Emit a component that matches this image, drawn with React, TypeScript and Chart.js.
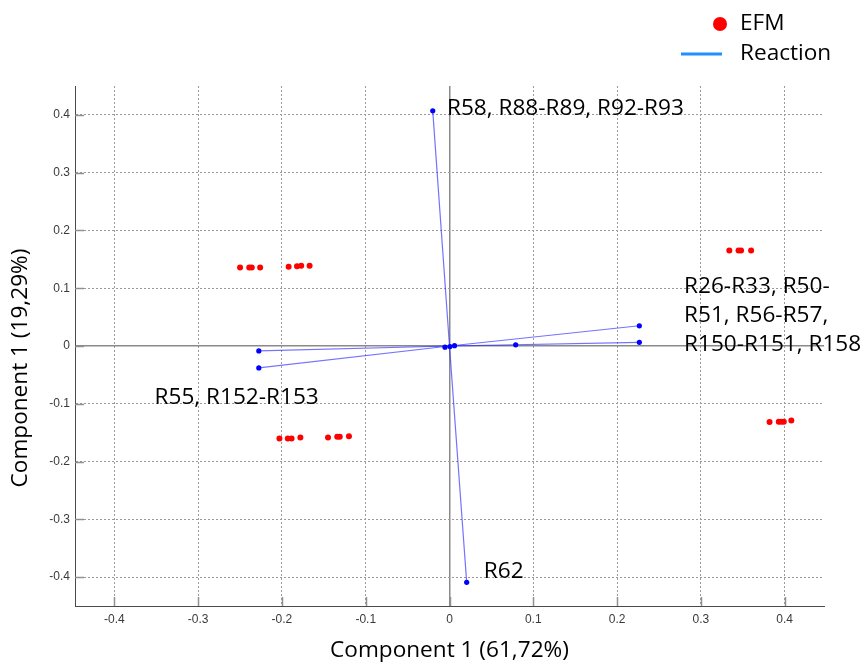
import React, { useEffect, useRef } from "react";
import { Chart, registerables } from "chart.js";
Chart.register(...registerables);

// EFM scores (component 1, component 2)
const efmX = [
  -0.250, -0.239, -0.236, -0.226, -0.192, -0.182, -0.177, -0.167,
  -0.203, -0.193, -0.1885, -0.178, -0.145, -0.134, -0.131, -0.120,
  0.334, 0.345, 0.348, 0.360,
  0.382, 0.393, 0.396, 0.399, 0.408,
];
const efmY = [
  0.136, 0.136, 0.136, 0.136, 0.137, 0.138, 0.139, 0.139,
  -0.160, -0.160, -0.160, -0.1585, -0.1585, -0.157, -0.157, -0.156,
  0.1655, 0.1655, 0.1655, 0.1655,
  -0.1315, -0.131, -0.131, -0.131, -0.129,
];

// Reaction loading vectors (end points, drawn from the origin)
const reactX = [-0.020, 0.0205, -0.2276, -0.2276, 0.2266, 0.2266, 0.079, -0.0054, 0.0006, 0.006];
const reactY = [0.407, -0.409, -0.0086, -0.038, 0.035, 0.0064, 0.002, -0.002, -0.001, 0.0005];

// Annotation labels (text lines anchored at data coordinates)
const labelTexts = [
  ["R58, R88-R89, R92-R93"],
  ["R26-R33, R50-", "R51, R56-R57,", "R150-R151, R158"],
  ["R55, R152-R153"],
  ["R62"],
];
const labelX = [-0.003, 0.280, -0.352, 0.041];
const labelY = [0.411, 0.1034, -0.0897, -0.3897];

const xTicks = [-0.4, -0.3, -0.2, -0.1, 0, 0.1, 0.2, 0.3, 0.4];
const yTicks = [-0.4, -0.3, -0.2, -0.1, 0, 0.1, 0.2, 0.3, 0.4];

const xTitle = "Component 1 (61,72%)";
const yTitle = "Component 1 (19,29%)";
const legendNames = ["EFM", "Reaction"];

const TEXT_FONT = "'Open Sans', 'Noto Sans', sans-serif";
const TEXT_SIZE = 22.6;
const TICK_FONT = "'Liberation Sans', Arial, sans-serif";

export default function App() {
  const ref = useRef<HTMLCanvasElement>(null);

  useEffect(() => {
    const canvas = ref.current!;
    const efmData = efmX.map((x, i) => ({ x, y: efmY[i] }));
    const reactionData: any[] = [];
    reactX.forEach((x, i) => {
      reactionData.push({ x: 0, y: 0 }, { x, y: reactY[i] }, { x: NaN, y: NaN });
    });

    const extras = {
      id: "extras",
      beforeDatasetsDraw(chart: any) {
        const { ctx, chartArea, scales } = chart;
        ctx.save();
        ctx.strokeStyle = "#909090";
        ctx.lineWidth = 1.5;
        ctx.setLineDash([]);
        for (const v of xTicks) {
          const px = Math.round(scales.x.getPixelForValue(v)) + 0.5;
          ctx.beginPath();
          ctx.moveTo(px, chartArea.bottom);
          ctx.lineTo(px, chartArea.bottom - 9);
          ctx.stroke();
        }
        for (const v of yTicks) {
          const py = Math.round(scales.y.getPixelForValue(v)) + 0.5;
          ctx.beginPath();
          ctx.moveTo(chartArea.left, py);
          ctx.lineTo(chartArea.left + 9, py);
          ctx.stroke();
        }
        ctx.restore();
      },
      afterDraw(chart: any) {
        const { ctx, scales } = chart;
        ctx.save();
        ctx.fillStyle = "#000";
        ctx.font = `${TEXT_SIZE}px ${TEXT_FONT}`;
        ctx.textAlign = "left";
        ctx.textBaseline = "middle";
        labelTexts.forEach((lines, i) => {
          const px = scales.x.getPixelForValue(labelX[i]);
          const py = scales.y.getPixelForValue(labelY[i]);
          lines.forEach((t, j) => ctx.fillText(t, px, py + j * 29));
        });

        // y-axis title
        ctx.save();
        ctx.translate(21, 368);
        ctx.rotate(-Math.PI / 2);
        ctx.textAlign = "center";
        ctx.fillStyle = "#000";
        ctx.fillText(yTitle, 0, 0);
        ctx.restore();

        // legend
        ctx.fillStyle = "#ff0000";
        ctx.beginPath();
        ctx.arc(720, 24, 7, 0, Math.PI * 2);
        ctx.fill();
        ctx.strokeStyle = "#1e90ff";
        ctx.lineWidth = 3;
        ctx.beginPath();
        ctx.moveTo(681, 54);
        ctx.lineTo(722, 54);
        ctx.stroke();
        ctx.fillStyle = "#000";
        ctx.textAlign = "left";
        ctx.fillText(legendNames[0], 740, 24);
        ctx.fillText(legendNames[1], 740, 54);
        ctx.restore();
      },
    };

    const isZero = (c: any) => c.tick && c.tick.value === 0;

    const chart = new Chart(canvas, {
      type: "scatter",
      data: {
        datasets: [
          {
            label: legendNames[1],
            data: reactionData,
            showLine: true,
            spanGaps: false,
            borderColor: "rgba(40,40,255,0.65)",
            borderWidth: 1.2,
            pointRadius: (c: any) => (c.dataIndex % 3 === 1 ? 2.6 : 0),
            pointBackgroundColor: "#0000ff",
            pointBorderWidth: 0,
          },
          {
            label: legendNames[0],
            data: efmData,
            pointRadius: 3,
            pointBackgroundColor: "#ff0000",
            pointBorderWidth: 0,
          },
        ],
      },
      options: {
        animation: false,
        responsive: false,
        layout: { padding: { left: 0, top: 86, right: 39, bottom: 0 } },
        plugins: { legend: { display: false }, tooltip: { enabled: false } },
        scales: {
          x: {
            type: "linear",
            min: -0.447,
            max: 0.447,
            afterBuildTicks: (s: any) => {
              s.ticks = xTicks.map((v) => ({ value: v }));
            },
            afterFit: (s: any) => {
              s.height = 58;
            },
            grid: {
              drawTicks: false,
              color: (c: any) => (isZero(c) ? "#8a8a8a" : "#9a9a9a"),
              lineWidth: (c: any) => (isZero(c) ? 1.5 : 1),
            },
            border: {
              display: true,
              color: "#4a4a4a",
              width: 1,
              dash: (c: any) => (isZero(c) ? [] : [2, 2]),
            },
            ticks: {
              padding: 6,
              color: "#3a3a3a",
              autoSkip: false,
              maxRotation: 0,
              font: { family: TICK_FONT, size: 12 },
              callback: (v: any) => String(v),
            },
            title: {
              display: true,
              text: xTitle,
              color: "#000",
              font: { family: TEXT_FONT, size: TEXT_SIZE },
              padding: { top: 0, bottom: 0 },
            },
          },
          y: {
            type: "linear",
            min: -0.45,
            max: 0.45,
            afterBuildTicks: (s: any) => {
              s.ticks = yTicks.map((v) => ({ value: v }));
            },
            afterFit: (s: any) => {
              s.width = 75;
            },
            grid: {
              drawTicks: false,
              color: (c: any) => (isZero(c) ? "#8a8a8a" : "#9a9a9a"),
              lineWidth: (c: any) => (isZero(c) ? 1.5 : 1),
            },
            border: {
              display: true,
              color: "#4a4a4a",
              width: 1,
              dash: (c: any) => (isZero(c) ? [] : [2, 2]),
            },
            ticks: {
              padding: 5,
              color: "#3a3a3a",
              autoSkip: false,
              font: { family: TICK_FONT, size: 12 },
              callback: (v: any) => String(v),
            },
          },
        },
      },
      plugins: [extras],
    });

    return () => chart.destroy();
  }, []);

  return (
    <div style={{ position: "fixed", left: 0, top: 0, width: 863, height: 664, background: "#fff" }}>
      <canvas ref={ref} width={863} height={664} style={{ display: "block" }} />
    </div>
  );
}
